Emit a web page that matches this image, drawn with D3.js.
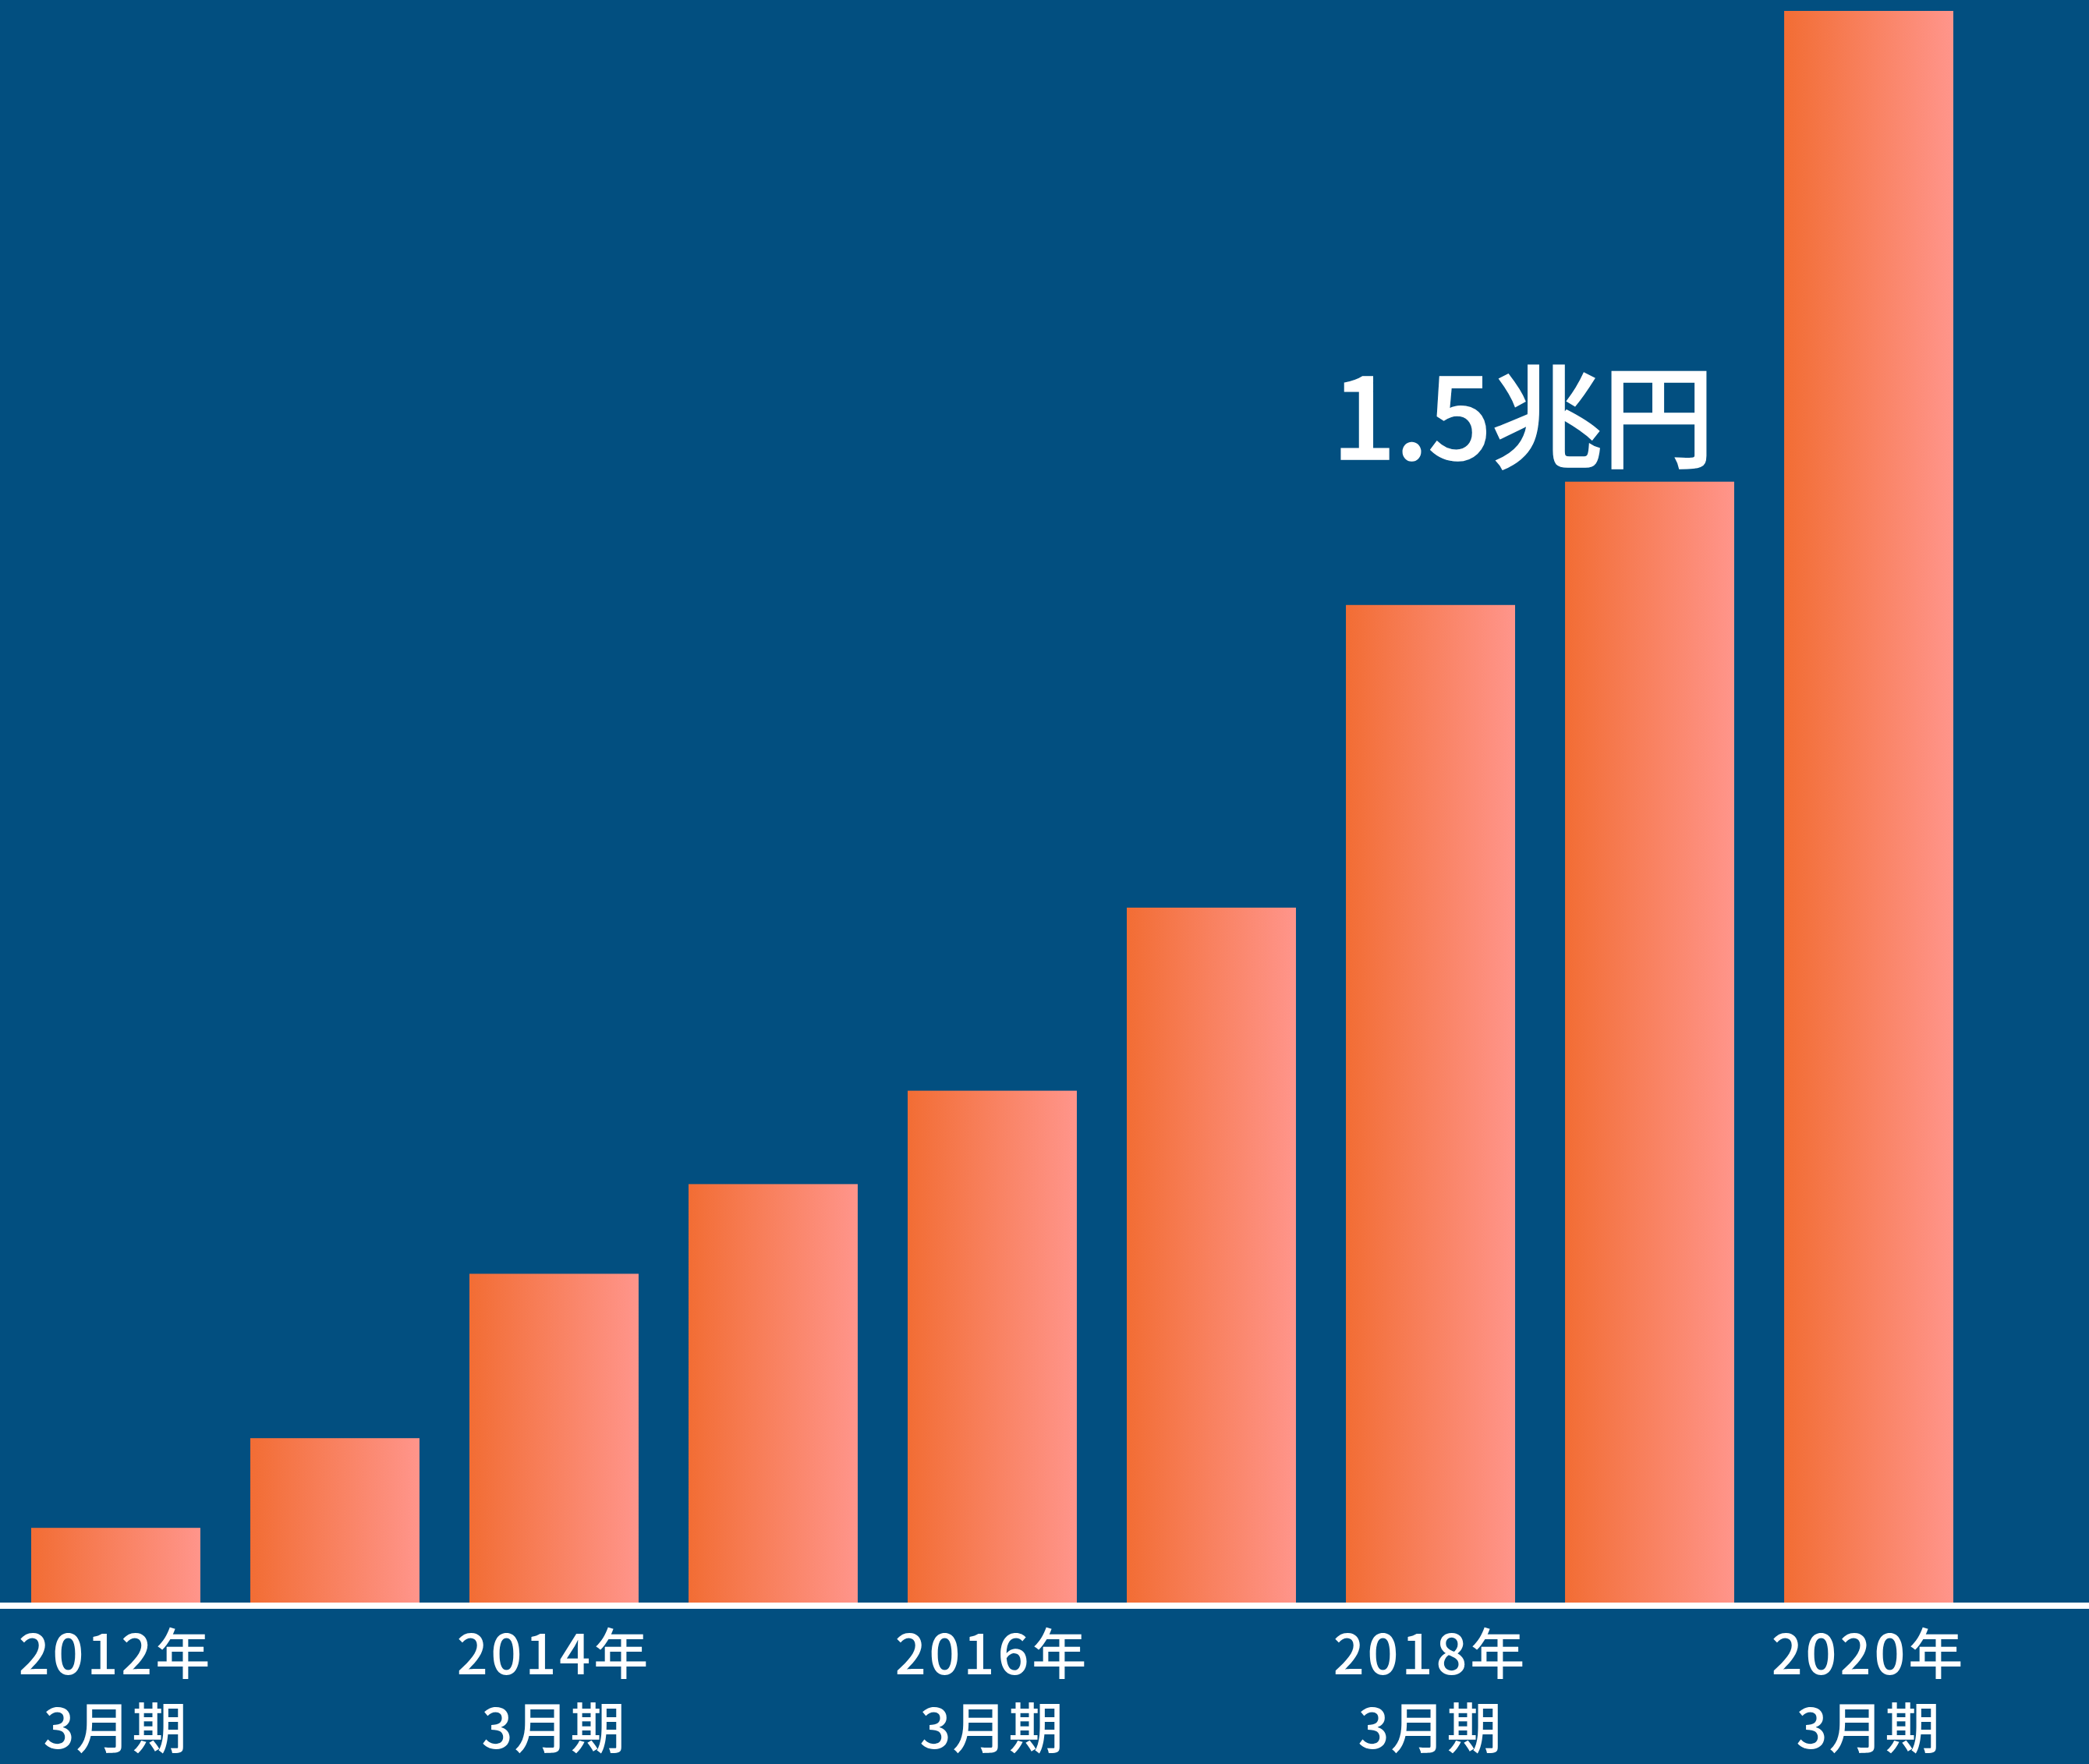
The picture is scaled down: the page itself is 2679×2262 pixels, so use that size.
<!DOCTYPE html>
<html>
<head>
<meta charset="utf-8">
<script src="https://cdn.jsdelivr.net/npm/d3@7"></script>
<style>
  html, body { margin: 0; padding: 0; background: #024f80; }
  svg { display: block; }
</style>
</head>
<body>
<div class="canvas"></div>
<script>
// data (兆円)
const years = ['2012', '2013', '2014', '2015', '2016', '2017', '2018', '2019', '2020'];
const values = [0.10, 0.22, 0.44, 0.56, 0.685, 0.93, 1.335, 1.5, 2.13];
const tickYears = ['2012', '2014', '2016', '2018', '2020'];
const calloutYear = '2019';
const calloutText = '1.5兆円';

const width = 2679;
const height = 2262;
const baseY = 2055;

const svg = d3.select('.canvas')
                .append('svg')
                .attr('width', width)
                .attr('height', height);

svg.append('rect')
    .attr('width', width)
    .attr('height', height)
    .attr('fill', '#024f80');

// gradient for bars, left to right
const grad = svg.append('defs')
                .append('linearGradient')
                .attr('id', 'barGrad')
                .attr('x1', '0%').attr('x2', '100%')
                .attr('y1', '0%').attr('y2', '0%');
grad.append('stop').attr('offset', '0%').attr('stop-color', '#f26d34');
grad.append('stop').attr('offset', '100%').attr('stop-color', '#ff958b');

const x = d3.scaleBand()
            .domain(years)
            .range([40, 2505])
            .paddingInner(0.228)
            .paddingOuter(0);

const y = d3.scaleLinear()
            .domain([0, d3.max(values)])
            .range([baseY, 14]);

const data = years.map((yr, i) => ({year: yr, value: values[i]}));

svg.selectAll('rect.bar')
    .data(data)
    .enter()
    .append('rect')
    .attr('class', 'bar')
    .attr('x', d => x(d.year))
    .attr('width', x.bandwidth())
    .attr('y', d => y(d.value))
    .attr('height', d => baseY - y(d.value))
    .attr('fill', 'url(#barGrad)');

// baseline
svg.append('rect')
    .attr('x', 0)
    .attr('y', baseY)
    .attr('width', width)
    .attr('height', 8)
    .attr('fill', '#ffffff');

// x labels, two lines in one text element
const font = '"Noto Sans CJK JP", "Noto Sans", sans-serif';
const labels = svg.selectAll('text.tick')
                    .data(tickYears)
                    .enter()
                    .append('text')
                    .attr('class', 'tick')
                    .attr('text-anchor', 'middle')
                    .attr('font-family', font)
                    .attr('font-size', 70)
                    .attr('font-weight', 500)
                    .attr('fill', '#ffffff');

labels.append('tspan')
        .attr('x', d => x(d) + x.bandwidth() / 2)
        .attr('y', 2147)
        .attr('letter-spacing', 4)
        .text(d => d + '年');

labels.append('tspan')
        .attr('x', d => x(d) + x.bandwidth() / 2)
        .attr('y', 2242)
        .attr('letter-spacing', 2)
        .text('3月期');

// callout above 2019 bar
const cv = values[years.indexOf(calloutYear)];
svg.append('text')
    .attr('x', x(calloutYear) + x.bandwidth() - 26)
    .attr('y', y(cv) - 29)
    .attr('text-anchor', 'end')
    .attr('font-family', font)
    .attr('font-size', 144)
    .attr('font-weight', 500)
    .attr('letter-spacing', -1)
    .attr('fill', '#ffffff')
    .attr('stroke', '#ffffff')
    .attr('stroke-width', 1.5)
    .text(calloutText);
</script>
</body>
</html>
